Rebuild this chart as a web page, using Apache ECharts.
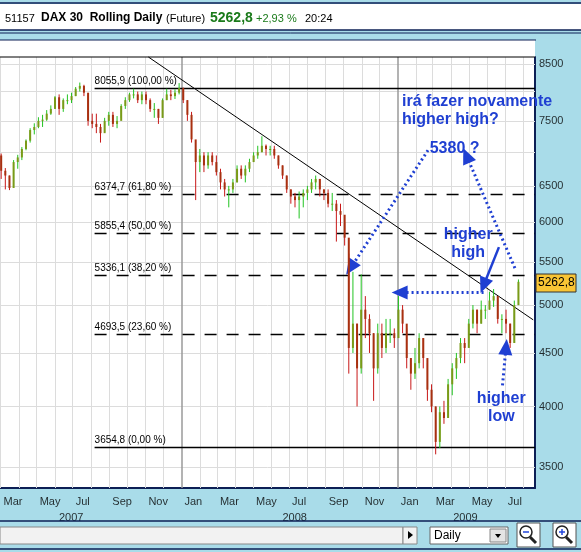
<!DOCTYPE html>
<html><head><meta charset="utf-8">
<script src="https://cdn.jsdelivr.net/npm/echarts@6/dist/echarts.min.js"></script>
<style>html,body{margin:0;padding:0;background:#a9dce9}#c{width:581px;height:552px}</style>
</head><body><div id="c"></div>
<script>
// weekly bars (Fridays) from 2007-03-02 to 2009-07-24
const startDate = '2007-03-02';
const firstOpen = 6950;
const closes = [
 6720,6650,6470,6850,6920,7050,7180,7350,7400,7500,7520,7620,7700,7900,7700,7850,7850,7920,8050,8100,7980,7500,7450,7400,7300,7500,7600,7450,7500,7750,7850,7950,7950,7850,7950,7850,7700,7700,7550,7850,7950,7920,7980,8060,
 7850,7600,7200,6850,6950,6800,6950,6850,6700,6550,6450,6450,6550,6750,6650,6750,6850,6950,7000,7100,7050,7050,6950,6800,6650,6450,6350,6300,6350,6400,6450,6550,6600,6450,6400,6250,6250,6150,6100,5800,4550,4800,4350,4950,4850,4700,4350,4700,4550,4700,4700,4650,
 4950,4800,4450,4300,4400,4650,4450,4150,4000,3700,3950,3900,4200,4350,4450,4600,4550,4800,4950,4800,4950,4950,5050,5100,4850,4850,4800,4600,5000,5263];
const highs = [
 6980,6760,6650,6880,6960,7080,7200,7380,7460,7560,7600,7680,7760,7920,7950,7880,7950,7980,8080,8160,8120,7950,7620,7620,7450,7550,7650,7650,7580,7780,7900,7980,8050,8000,8000,8000,7880,7800,7700,7880,8050,8030,8040,8150,
 8070,7850,7650,7050,7050,7000,7000,7000,6950,6750,6600,6500,6600,6800,6800,6800,6900,7000,7100,7250,7120,7100,7100,6950,6800,6650,6450,6400,6420,6450,6500,6600,6650,6600,6450,6450,6400,6300,6250,6000,5600,5380,4800,5350,5100,4900,4700,4800,4800,4850,4850,4750,
 5100,5000,4750,4450,4550,4700,4650,4400,4200,4000,4000,4050,4250,4400,4500,4650,4650,4850,5000,4950,5050,5000,5150,5180,5100,4900,4950,4800,5050,5290];
const lows = [
 6600,6450,6440,6500,6750,6880,7030,7150,7280,7380,7400,7500,7600,7700,7600,7650,7780,7800,7920,8000,7920,7420,7380,7300,7150,7320,7420,7400,7380,7550,7700,7820,7880,7800,7780,7780,7650,7550,7450,7550,7850,7850,7870,7950,
 7800,7500,7150,6300,6700,6700,6750,6800,6650,6450,6350,6200,6400,6550,6600,6550,6700,6850,6900,7000,6950,6950,6900,6750,6600,6400,6250,6200,6050,6200,6300,6400,6450,6350,6300,6200,6150,5750,5950,5700,4300,4500,4000,4300,4650,4500,4050,4300,4450,4500,4600,4550,
 4750,4700,4350,4150,4250,4350,4350,4050,3950,3600,3650,3850,3900,4100,4250,4400,4400,4600,4750,4700,4800,4850,4950,4980,4800,4700,4700,4550,4600,5000];

const fibValues = [8055.9, 6374.7, 5855.4, 5336.1, 4693.5, 3654.8];
const fibLabels = ['8055,9 (100,00 %)','6374,7 (61,80 %)','5855,4 (50,00 %)','5336,1 (38,20 %)','4693,5 (23,60 %)','3654,8 (0,00 %)'];
const fibSolid = [true,false,false,false,false,true];
const yTickValues = [8500,7500,6500,6000,5500,5000,4500,4000,3500];
const yGridValues = [8500,8000,7500,7000,6500,6000,5500,5000,4500,4000,3500];
const monthLabels = ['Mar','May','Jul','Sep','Nov','Jan','Mar','May','Jul','Sep','Nov','Jan','Mar','May','Jul'];
const monthLabelDates = ['2007-03-01','2007-05-01','2007-07-01','2007-09-01','2007-11-01','2008-01-01','2008-03-01','2008-05-01','2008-07-01','2008-09-01','2008-11-01','2009-01-01','2009-03-01','2009-05-01','2009-07-01'];
const yearLabels = ['2007','2008','2009'];
const yearLabelDates = ['2007-06-28','2008-07-10','2009-04-25'];
const trendLine = [['2007-11-06', 8632], ['2009-08-18', 4840]];

const X_MIN = Date.UTC(2007,1,28), X_MAX = Date.UTC(2009,7,21);
const Y_MIN = 3343, Y_MAX = 8632;
const DAY = 86400000;
const t = s => Date.parse(s + 'T00:00:00Z');
const t0 = t(startDate);
const bars = closes.map((c,i) => [t0 + i*7*DAY, i===0?firstOpen:closes[i-1], c, lows[i], highs[i]]);

const monthGrid = [];
for (let y=2007; y<=2009; y++) for (let m=0; m<12; m++) {
  const v = Date.UTC(y,m,1); if (v> X_MIN && v < X_MAX) monthGrid.push(v);
}

const blue = '#1f3fd2';
const annText = {color: blue, fontFamily: 'Liberation Sans, Arial', fontWeight: 'bold', fontSize: 16, lineHeight: 18, textBorderWidth: 0, textShadowBlur: 0, opacity: 1};
const hf = 'Liberation Sans';

const chart = echarts.init(document.getElementById('c'), null, {renderer:'canvas'});
chart.setOption({
  animation: false,
  backgroundColor: '#a9dce9',
  grid: {left: 0, right: 46, top: 57, bottom: 64, show: true, backgroundColor: '#fff', borderWidth: 0},
  xAxis: {type: 'time', min: X_MIN, max: X_MAX, axisLabel: {show:false}, axisTick:{show:false}, splitLine:{show:false},
          axisLine: {show: true, lineStyle: {color: '#0c1f55', width: 2}}},
  yAxis: {type: 'log', logBase: 10, min: Y_MIN, max: Y_MAX, position: 'right', axisLabel:{show:false},
          axisTick:{show:false}, splitLine:{show:false}, minorTick:{show:false},
          axisLine: {show: true, onZero:false, lineStyle: {color: '#0c1f55', width: 2}}},
  graphic: [
    {type:'rect', shape:{x:0,y:4,width:581,height:26}, style:{fill:'#fff'}, z:100},
    {type:'line', shape:{x1:0,y1:3,x2:581,y2:3}, style:{stroke:'#0c1f55', lineWidth:1.5}, z:101},
    {type:'line', shape:{x1:0,y1:30,x2:581,y2:30}, style:{stroke:'#0c1f55', lineWidth:1.5}, z:101},
    {type:'line', shape:{x1:0,y1:33,x2:581,y2:33}, style:{stroke:'#0c1f55', lineWidth:1}, z:101},
    {type:'rect', shape:{x:0,y:40,width:535,height:17}, style:{fill:'#fff'}, z:1},
    {type:'line', shape:{x1:0,y1:40,x2:536,y2:40}, style:{stroke:'#0c1f55', lineWidth:1}, z:101},
    {type:'line', shape:{x1:0,y1:57,x2:535,y2:57}, style:{stroke:'#000', lineWidth:1}, z:101},
    {type:'text', x:5, y:13, style:{text:'51157', font:'11px '+hf, fill:'#000'}, z:102},
    {type:'text', x:41, y:12, style:{text:'DAX 30  Rolling Daily', font:'bold 12px '+hf, fill:'#000'}, z:102},
    {type:'text', x:166, y:13, style:{text:'(Future)', font:'11px '+hf, fill:'#000'}, z:102},
    {type:'text', x:210, y:11, style:{text:'5262,8', font:'bold 14px '+hf, fill:'#1a7a1a'}, z:102},
    {type:'text', x:256, y:13, style:{text:'+2,93 %', font:'11px '+hf, fill:'#1a7a1a'}, z:102},
    {type:'text', x:305, y:13, style:{text:'20:24', font:'11px '+hf, fill:'#000'}, z:102},
    {type:'line', shape:{x1:0,y1:521,x2:581,y2:521}, style:{stroke:'#0c1f55', lineWidth:1.5}, z:101},
    {type:'line', shape:{x1:0,y1:549,x2:581,y2:549}, style:{stroke:'#0c1f55', lineWidth:1.5}, z:101},
    {type:'rect', shape:{x:0,y:527,width:403,height:17}, style:{fill:'#f2f2f2', stroke:'#888'}, z:101},
    {type:'rect', shape:{x:403,y:527,width:14,height:17}, style:{fill:'#f2f2f2', stroke:'#888'}, z:101},
    {type:'polygon', shape:{points:[[408,531],[408,539],[413,535]]}, style:{fill:'#000'}, z:102},
    {type:'rect', shape:{x:430,y:527,width:78,height:17}, style:{fill:'#fff', stroke:'#666'}, z:101},
    {type:'text', x:434, y:530, style:{text:'Daily', font:'12px Liberation Sans', fill:'#000'}, z:102},
    {type:'rect', shape:{x:490,y:529,width:16,height:13}, style:{fill:'#e4e4e4', stroke:'#888'}, z:102},
    {type:'polygon', shape:{points:[[495,534],[501,534],[498,538]]}, style:{fill:'#000'}, z:103},
    {type:'rect', shape:{x:517,y:523,width:23,height:24}, style:{fill:'#fff', stroke:'#555'}, z:101},
    {type:'circle', shape:{cx:526,cy:532,r:6}, style:{fill:'#fff', stroke:'#222', lineWidth:1.5}, z:102},
    {type:'line', shape:{x1:530,y1:537,x2:536,y2:543}, style:{stroke:'#222', lineWidth:3}, z:102},
    {type:'line', shape:{x1:523,y1:532,x2:529,y2:532}, style:{stroke:'#2244dd', lineWidth:1.5}, z:103},
    {type:'rect', shape:{x:553,y:523,width:23,height:24}, style:{fill:'#fff', stroke:'#555'}, z:101},
    {type:'circle', shape:{cx:562,cy:532,r:6}, style:{fill:'#fff', stroke:'#222', lineWidth:1.5}, z:102},
    {type:'line', shape:{x1:566,y1:537,x2:572,y2:543}, style:{stroke:'#222', lineWidth:3}, z:102},
    {type:'line', shape:{x1:559,y1:532,x2:565,y2:532}, style:{stroke:'#2244dd', lineWidth:1.5}, z:103},
    {type:'line', shape:{x1:562,y1:529,x2:562,y2:535}, style:{stroke:'#2244dd', lineWidth:1.5}, z:103},
    {type:'rect', shape:{x:536,y:274,width:40,height:18}, style:{fill:'#f9c535', stroke:'#333'}, z:102},
    {type:'text', x:538, y:277, style:{text:'5262,8', font:'12px Liberation Sans', fill:'#000'}, z:103}
  ],
  series: [
    {
      type:'line', data:[], silent:true, z:1,
      markLine: {symbol:'none', silent:true, animation:false, label:{show:false},
        data: [
          ...yGridValues.map(v=>({yAxis:v, lineStyle:{color:'#dcdcdc', width:1, type:'solid'}})),
          ...monthGrid.map(v=>({xAxis:v, lineStyle:{color: new Date(v).getUTCMonth()===0 ? '#9a9a9a':'#dcdcdc', width: new Date(v).getUTCMonth()===0?1.5:1, type:'solid'}}))
        ]}
    },
    {
      type:'line', data:[], silent:true, z:3,
      markLine: {symbol:'none', silent:true, animation:false,
        data: fibValues.map((v,i)=>[
          {coord:[t('2007-08-07'), v], lineStyle:{color:'#000', width:1.3, type: fibSolid[i]?'solid':[12,10]},
           label:{show:true, position:'insideStartTop', formatter: fibLabels[i], color:'#000', fontSize:10, fontFamily:'Liberation Sans', distance:[0,2]}},
          {coord:[X_MAX, v]}
        ])}
    },
    {
      type:'line', data:[], silent:true, z:4,
      markLine: {symbol:'none', silent:true, animation:false, label:{show:false},
        data: [[{coord:[t(trendLine[0][0]), trendLine[0][1]], lineStyle:{color:'#000', width:1, type:'solid'}},
                {coord:[t(trendLine[1][0]), trendLine[1][1]]}]]}
    },
    {
      type:'custom', z:5, clip:true,
      data: bars,
      encode: {x:0, y:[1,2,3,4]},
      renderItem: (params, api) => {
        const x = api.value(0), o = api.value(1), c = api.value(2), lo = api.value(3), hi = api.value(4);
        const pHi = api.coord([x, hi]), pLo = api.coord([x, lo]), pO = api.coord([x, o]), pC = api.coord([x, c]);
        const up = c >= o;
        return {type:'group', children:[
          {type:'line', shape:{x1:pHi[0], y1:pHi[1], x2:pLo[0], y2:pLo[1]}, style:{stroke: up?'#22c422':'#c81818', lineWidth:1}},
          {type:'rect', shape:{x:pO[0]-1, y:Math.min(pO[1],pC[1]), width:2, height:Math.max(1,Math.abs(pO[1]-pC[1]))}, style:{fill: up ? '#7a9a18' : '#a83010'}}
        ]};
      }
    },
    {
      type:'scatter', symbolSize:0, clip:false, silent:true, z:10,
      data: yTickValues.map(v=>[X_MAX, v]),
      label:{show:true, position:'right', distance:4, formatter: p=>String(p.value[1]), color:'#000', fontSize:11, fontFamily:'Liberation Sans'}
    },
    {
      type:'scatter', symbolSize:0, clip:false, silent:true, z:10,
      data: monthLabelDates.map((d,i)=>({value:[t(d), Y_MIN], name: monthLabels[i]})),
      label:{show:true, position:[3,8], formatter: p=>p.name, color:'#000', fontSize:11, fontFamily:'Liberation Sans'}
    },
    {
      type:'scatter', symbolSize:0, clip:false, silent:true, z:10,
      data: yearLabelDates.map((d,i)=>({value:[t(d), Y_MIN], name: yearLabels[i]})),
      label:{show:true, position:[-12,24], formatter: p=>p.name, color:'#000', fontSize:11, fontFamily:'Liberation Sans'}
    },
    {
      type:'line', data:[], silent:true, z:20,
      markLine: {silent:true, animation:false, label:{show:false}, symbol:['none','triangle'], symbolSize:[14,16],
        lineStyle:{color:blue, width:3, type:[2,3], opacity:1},
        data: [
          [{coord:[t('2009-02-21'), 7030]}, {coord:[t('2008-10-13'), 5424]}],
          [{coord:[t('2009-07-18'), 5424]}, {coord:[t('2009-04-27'), 6950]}],
          [{coord:[t('2009-05-26'), 5140]}, {coord:[t('2009-01-04'), 5140]}],
          [{coord:[t('2009-06-27'), 4190]}, {coord:[t('2009-07-03'), 4560]}],
          [{coord:[t('2009-06-21'), 5680], lineStyle:{type:'solid', width:2.5}}, {coord:[t('2009-05-26'), 5220]}]
        ]}
    },
    {
      type:'scatter', symbolSize:0, clip:false, silent:true, z:21,
      itemStyle:{opacity:1},
      data: [
        {value:[t('2009-01-08'), 7680], name:'irá fazer novamente\nhigher high?', label:{position:'right', distance:0, align:'left'}},
        {value:[t('2009-04-07'), 7050], name:'5380 ?'},
        {value:[t('2009-04-30'), 5730], name:'higher\nhigh'},
        {value:[t('2009-06-25'), 3990], name:'higher\nlow'}
      ],
      label:{show:true, position:'inside', formatter:p=>p.name, ...annText}
    }
  ]
});
</script></body></html>
